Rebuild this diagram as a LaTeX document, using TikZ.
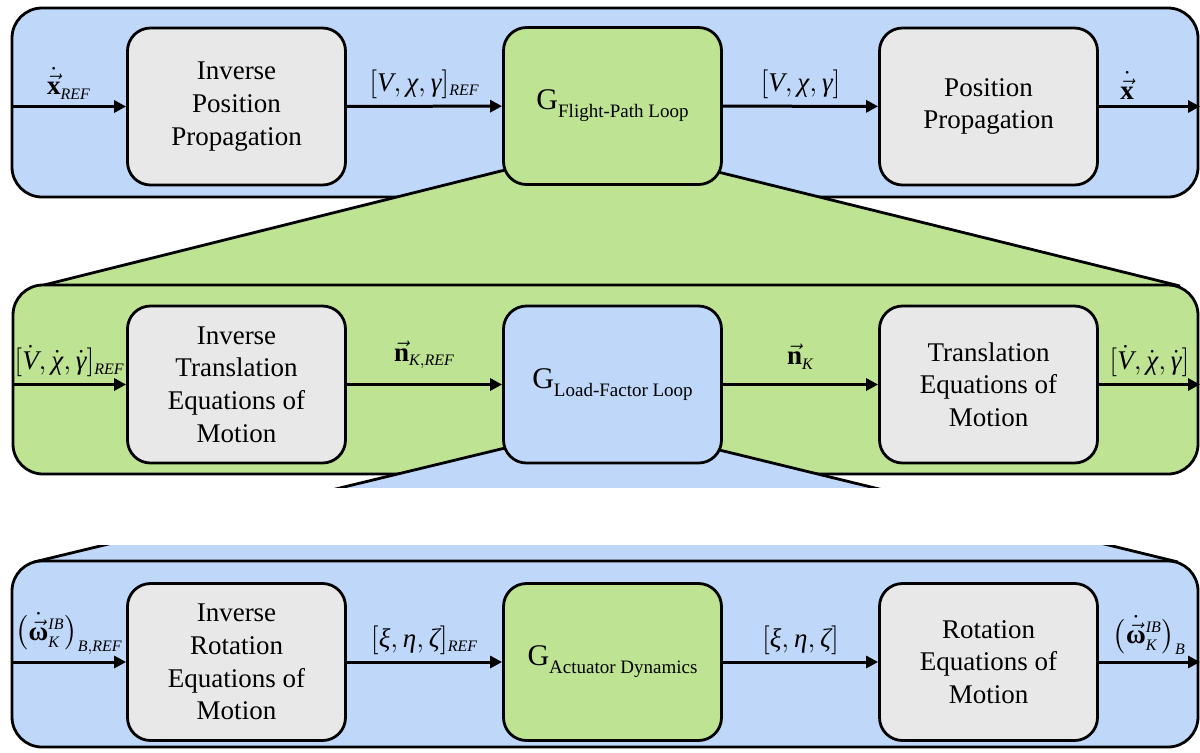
\documentclass[tikz,border=0pt]{standalone}
\usepackage{amsmath}
\usepackage{fontspec}
\setmainfont{Liberation Serif}
\usetikzlibrary{arrows.meta}
\DeclareMathSizes{13.5}{13.5}{8}{6}
\definecolor{pblue}{RGB}{191,216,250}
\definecolor{pgreen}{RGB}{190,227,146}
\definecolor{pgray}{RGB}{232,232,232}
\newcommand{\boxfont}{\fontsize{13.5}{16.3}\selectfont}
\newcommand{\lblfont}{\fontsize{13.5}{16}\selectfont}
\newcommand{\mi}[1]{\text{\itshape #1}}
\newcommand{\mb}[1]{\text{\bfseries #1}}
\newcommand{\Gsub}[1]{{\fontsize{15}{18}\selectfont G}\raisebox{-4pt}{\fontsize{9.5}{11}\selectfont #1}}
\begin{document}
\begin{tikzpicture}[x=0.5pt,y=-0.5pt,
  panel/.style={draw=black,line width=1.4pt,rounded corners=15pt},
  blk/.style={draw=black,line width=1.4pt,rounded corners=11.5pt,minimum width=109pt,minimum height=78.5pt,align=center,font=\boxfont,inner sep=2pt},
  gbox/.style={blk,fill=pgray},
  flow/.style={line width=1.5pt,-{Triangle[length=6pt,width=6pt]}},
  lbl/.style={font=\lblfont,inner sep=1pt,above=2pt},
  edge/.style={draw=black,line width=1.4pt}]
\useasboundingbox (0,0) rectangle (1200,752);
% ---------- panels and zoom trapezoids ----------
\path[panel,fill=pblue] (12,8) rectangle (1198,197);
\coordinate (ua) at (515,167.5);
\coordinate (ub) at (40,286);
\coordinate (uc) at (1180,286);
\coordinate (ud) at (710,170);
\fill[pgreen] (ua) -- (ub) -- (uc) -- (ud) -- cycle;
\draw[edge] (ua) -- (ub);
\draw[edge] (ud) -- (uc);
\path[panel,fill=pgreen] (13,285) rectangle (1198,474);
\coordinate (la) at (515,445.6);
\coordinate (lb) at (34,562);
\coordinate (lc) at (1178,562);
\coordinate (ld) at (710,447.7);
\fill[pblue] (la) -- (lb) -- (lc) -- (ld) -- cycle;
\draw[edge] (la) -- (lb);
\draw[edge] (ld) -- (lc);
\fill[white] (0,488) rectangle (1200,545);
\path[panel,fill=pblue] (12,561) rectangle (1198,747);
% ---------- top row ----------
\node[gbox] (ipp) at (236.5,106.5) {Inverse\\Position\\Propagation};
\node[blk,fill=pgreen] (gfp) at (612.5,106) {\Gsub{Flight-Path Loop}};
\node[gbox] (pp) at (988.5,106.5) {Position\\Propagation};
\coordinate (in1) at (12,106.5);
\coordinate (out1) at (1200,106.5);
\draw[flow] (in1) -- node[lbl] (l1) {$\dot{\vec{\mb{x}}}_{\mi{REF}}$} (ipp);
\draw[flow] (ipp) -- node[lbl] (l2) {$[\mi{V},\mi{χ},\mi{γ}]_{\mi{REF}}$} (gfp);
\draw[flow] (gfp) -- node[lbl] (l3) {$[\mi{V},\mi{χ},\mi{γ}]$} (pp);
\draw[flow] (pp) -- node[lbl,pos=0.28] (l4) {$\dot{\vec{\mb{x}}}$} (out1);
% ---------- middle row ----------
\node[gbox] (ite) at (236.5,384.5) {Inverse\\Translation\\Equations of\\Motion};
\node[blk,fill=pblue] (glf) at (612.5,384.5) {\Gsub{Load-Factor Loop}};
\node[gbox] (te) at (988.5,384.5) {Translation\\Equations of\\Motion};
\coordinate (in2) at (13,384.5);
\coordinate (out2) at (1200,384.5);
\draw[flow] (in2) -- node[lbl] (m1) {$[\dot{\mi{V}},\dot{\mi{χ}},\dot{\mi{γ}}]_{\mi{REF}}$} (ite);
\draw[flow] (ite) -- node[lbl,above=4pt] (m2) {$\vec{\mb{n}}_{\mi{K},\mi{REF}}$} (glf);
\draw[flow] (glf) -- node[lbl,above=4pt] (m3) {$\vec{\mb{n}}_{\mi{K}}$} (te);
\draw[flow] (te) -- node[lbl] (m4) {$[\dot{\mi{V}},\dot{\mi{χ}},\dot{\mi{γ}}]$} (out2);
% ---------- bottom row ----------
\node[gbox] (ire) at (236.5,662) {Inverse\\Rotation\\Equations of\\Motion};
\node[blk,fill=pgreen] (gad) at (612.5,662) {\Gsub{Actuator Dynamics}};
\node[gbox] (re) at (988.5,662) {Rotation\\Equations of\\Motion};
\coordinate (in3) at (12,662);
\coordinate (out3) at (1200,662);
\draw[flow] (in3) -- node[lbl] (b1) {$\bigl(\dot{\vec{\mb{ω}}}{}_{\mi{K}}^{\mi{IB}}\bigr)_{\mi{B},\mi{REF}}$} (ire);
\draw[flow] (ire) -- node[lbl] (b2) {$[\mi{ξ},\mi{η},\mi{ζ}]_{\mi{REF}}$} (gad);
\draw[flow] (gad) -- node[lbl] (b3) {$[\mi{ξ},\mi{η},\mi{ζ}]$} (re);
\draw[flow] (re) -- node[lbl] (b4) {$\bigl(\dot{\vec{\mb{ω}}}{}_{\mi{K}}^{\mi{IB}}\bigr)_{\mi{B}}$} (out3);
\end{tikzpicture}
\end{document}
